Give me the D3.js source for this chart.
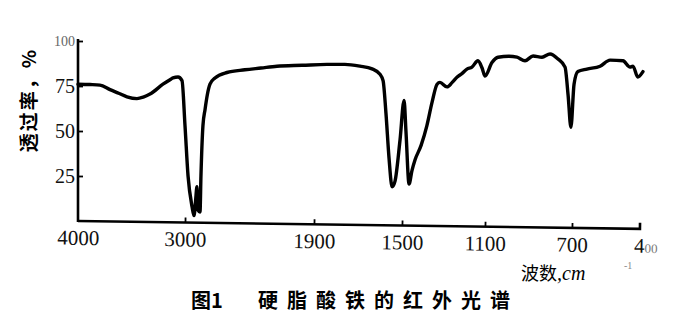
<!DOCTYPE html>
<html lang="zh">
<head>
<meta charset="UTF-8">
<title>硬脂酸铁的红外光谱</title>
<script src="https://d3js.org/d3.v7.min.js"></script>
<style>
    body { margin: 0; background: #fff; }
    svg { display: block; }
</style>
</head>
<body>
<div id="chart"></div>
<script>
// wavenumber ticks (cm-1) and transmittance ticks (%)
const xTicks = [4000, 3000, 1900, 1500, 1100, 700, 400]
const yTicks = [25, 50, 75, 100]

// spectrum
const wavenumber = [4000, 3888, 3795, 3701, 3620, 3542, 3449, 3390, 3327, 3206, 3140, 3112, 3065, 3028,
    3000, 2974, 2940, 2923, 2910, 2898, 2889, 2872, 2864, 2847, 2829, 2810, 2787, 2744, 2642, 2489, 2352, 2216,
    2000, 1841, 1760, 1691, 1636, 1600, 1586, 1573, 1559, 1545, 1532, 1509, 1490, 1481, 1466, 1452, 1437,
    1408, 1380, 1355, 1331, 1317, 1283, 1258, 1234, 1210, 1187, 1163, 1134, 1114, 1100, 1068, 1040, 990,
    953, 916, 879, 838, 801, 764, 732, 718, 705, 691, 674, 634, 576, 532, 475, 444, 431, 410, 387]
const transmittance = [76, 75.8, 75.5, 73, 71, 69, 68, 68.8, 70.5, 76, 78.5, 79.5, 80, 78,
    53, 25, 8, 3, 11, 19, 6, 5, 25, 53, 62, 70, 76, 79.5, 82.5, 84, 85, 86,
    86.5, 87, 87, 86, 84.5, 81.5, 78, 60, 35, 19, 22, 45, 67, 50, 20.5, 28, 34,
    42, 53, 66, 76, 77, 74.5, 77, 80, 82, 84.4, 85.5, 89, 85, 80.5, 88, 91, 91.5,
    91, 89, 91.7, 91, 92.8, 90, 85.5, 70, 52, 76, 83, 84.4, 86, 89.4, 89, 85.5, 86, 80, 83]

const width = 699, height = 327
const serif = "'Liberation Serif', 'DejaVu Serif', serif"
const cjk = "'Noto Sans CJK SC', sans-serif"

const svg = d3.select("#chart").append("svg")
    .attr("width", width)
    .attr("height", height)

// the printed axis is not linear: it changes scale at 2000 cm-1
const x = d3.scaleLinear()
    .domain(xTicks)
    .range([78, 185, 314, 402, 485, 572, 640])

const y = d3.scaleLinear()
    .domain([0, 100])
    .range([221, 41])

// x axis, drawn slightly tilted like the scan
const xAxis = svg.append("g")
    .attr("transform", "translate(0," + y(0) + ") rotate(0.8," + x(4000) + ",0)")
    .call(d3.axisBottom(x)
        .tickValues(xTicks)
        .tickSizeInner(-5)
        .tickSizeOuter(0)
        .tickPadding(9)
        .tickFormat(d3.format("d")))
    .attr("font-family", serif)

xAxis.select(".domain")
    .attr("stroke", "#000")
    .attr("stroke-width", 2.6)
    .attr("d", "M" + x(4000) + ",0H" + x(400) + "V-6")
xAxis.selectAll(".tick line").attr("stroke", "#000").attr("stroke-width", 1.8)
xAxis.selectAll(".tick").filter(d => d === 4000 || d === 400).select("line").remove()
xAxis.selectAll(".tick text")
    .attr("fill", "#111")
    .style("font-family", serif)
    .style("font-size", "21px")
xAxis.selectAll(".tick").filter(d => d === 400).select("text")
    .text("4")
    .attr("text-anchor", "start")
    .attr("dx", "-6")
    .append("tspan")
    .style("font-size", "13px")
    .attr("fill", "#777")
    .text("00")

// y axis
const yAxis = svg.append("g")
    .attr("transform", "translate(" + x(4000) + ",0)")
    .call(d3.axisLeft(y)
        .tickValues(yTicks)
        .tickSizeInner(-5)
        .tickSizeOuter(0)
        .tickPadding(3))
    .attr("font-family", serif)

yAxis.select(".domain")
    .attr("stroke", "#000")
    .attr("stroke-width", 2.6)
    .attr("d", "M0," + (y(0) + 1) + "V" + (y(100) - 2))
yAxis.selectAll(".tick line").attr("stroke", "#000").attr("stroke-width", 1.8)
yAxis.selectAll(".tick text")
    .attr("fill", "#111")
    .style("font-family", serif)
    .style("font-size", "20px")
yAxis.selectAll(".tick").filter(d => d === 100).select("text")
    .style("font-size", "14px")
    .attr("fill", "#666")

// spectrum
const line = d3.line()
    .x((d, i) => x(wavenumber[i]))
    .y(d => y(d))
    .curve(d3.curveMonotoneX)

svg.append("path")
    .datum(transmittance)
    .attr("fill", "none")
    .attr("stroke", "#000")
    .attr("stroke-width", 3.4)
    .attr("stroke-linejoin", "round")
    .attr("stroke-linecap", "round")
    .attr("d", line)

// axis titles
svg.append("text")
    .attr("transform", "translate(36,100) rotate(-90)")
    .attr("text-anchor", "middle")
    .style("font-family", cjk)
    .style("font-weight", "bold")
    .style("font-size", "19px")
    .style("letter-spacing", "2px")
    .text("透过率，%")

const xTitle = svg.append("text")
    .attr("x", 521)
    .attr("y", 280)
    .style("font-family", cjk)
    .style("font-size", "18px")
    .text("波数")
xTitle.append("tspan")
    .style("font-family", serif)
    .style("font-style", "italic")
    .style("font-size", "20px")
    .text(",cm")

svg.append("text")
    .attr("x", 624)
    .attr("y", 269)
    .attr("fill", "#888")
    .style("font-family", serif)
    .style("font-size", "10px")
    .text("-1")

// caption
svg.append("text")
    .attr("x", 191)
    .attr("y", 308)
    .style("font-family", cjk)
    .style("font-weight", "bold")
    .style("font-size", "20px")
    .text("图1")
svg.append("text")
    .attr("x", 258)
    .attr("y", 308)
    .style("font-family", cjk)
    .style("font-weight", "bold")
    .style("font-size", "20px")
    .style("letter-spacing", "9px")
    .text("硬脂酸铁的红外光谱")
</script>
</body>
</html>
